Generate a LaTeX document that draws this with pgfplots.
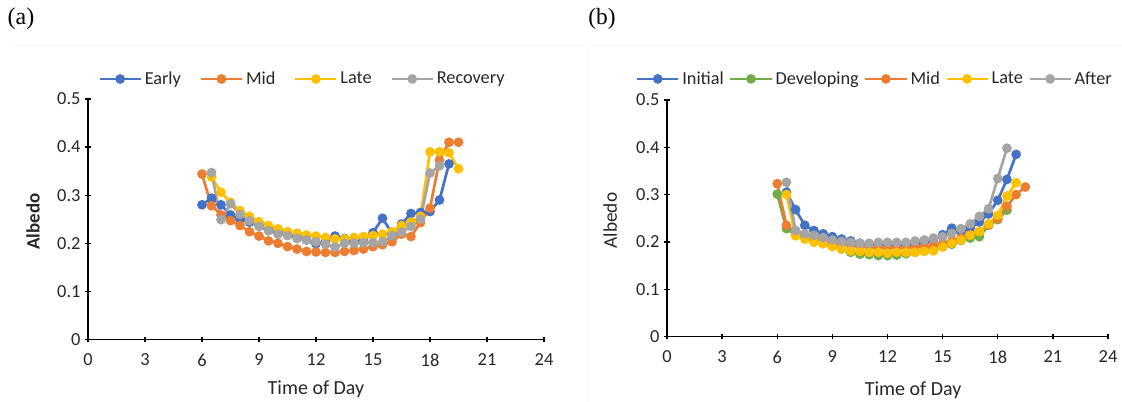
\documentclass[border=0pt]{standalone}
\usepackage{fontspec}
\setmainfont{Carlito}
\newfontfamily\seriffont{Liberation Serif}
\usepackage{pgfplots}
\pgfplotsset{compat=1.18}
\definecolor{eblue}{HTML}{4472C4}
\definecolor{eorange}{HTML}{ED7D31}
\definecolor{egray}{HTML}{A5A5A5}
\definecolor{egold}{HTML}{FFC000}
\definecolor{egreen}{HTML}{70AD47}

\pgfplotstableread{
t a
6.0 0.280
6.5 0.294
7.0 0.280
7.5 0.259
8.0 0.250
8.5 0.244
9.0 0.237
9.5 0.230
10.0 0.224
10.5 0.219
11.0 0.214
11.5 0.207
12.0 0.199
12.5 0.203
13.0 0.215
13.5 0.210
14.0 0.203
14.5 0.207
15.0 0.222
15.5 0.252
16.0 0.221
16.5 0.240
17.0 0.262
17.5 0.264
18.0 0.266
18.5 0.290
19.0 0.365
}\aEarly
\pgfplotstableread{
t a
6.0 0.344
6.5 0.278
7.0 0.259
7.5 0.247
8.0 0.237
8.5 0.224
9.0 0.215
9.5 0.205
10.0 0.200
10.5 0.193
11.0 0.188
11.5 0.183
12.0 0.182
12.5 0.181
13.0 0.181
13.5 0.183
14.0 0.185
14.5 0.188
15.0 0.193
15.5 0.197
16.0 0.203
16.5 0.219
17.0 0.214
17.5 0.243
18.0 0.273
18.5 0.373
19.0 0.410
19.5 0.410
}\aMid
\pgfplotstableread{
t a
6.5 0.338
7.0 0.306
7.5 0.285
8.0 0.268
8.5 0.256
9.0 0.245
9.5 0.237
10.0 0.230
10.5 0.224
11.0 0.221
11.5 0.217
12.0 0.215
12.5 0.212
13.0 0.209
13.5 0.209
14.0 0.212
14.5 0.214
15.0 0.216
15.5 0.219
16.0 0.224
16.5 0.237
17.0 0.244
17.5 0.256
18.0 0.390
18.5 0.390
19.0 0.388
19.5 0.355
}\aLate
\pgfplotstableread{
t a
6.5 0.347
7.0 0.249
7.5 0.282
8.0 0.260
8.5 0.247
9.0 0.235
9.5 0.226
10.0 0.219
10.5 0.216
11.0 0.210
11.5 0.207
12.0 0.203
12.5 0.198
13.0 0.192
13.5 0.200
14.0 0.200
14.5 0.201
15.0 0.201
15.5 0.203
16.0 0.216
16.5 0.223
17.0 0.235
17.5 0.250
18.0 0.346
18.5 0.361
}\aRec

\pgfplotstableread{
t a
6.5 0.305
7.0 0.268
7.5 0.235
8.0 0.224
8.5 0.217
9.0 0.211
9.5 0.206
10.0 0.202
10.5 0.197
11.0 0.195
11.5 0.194
12.0 0.192
12.5 0.192
13.0 0.192
13.5 0.195
14.0 0.199
14.5 0.204
15.0 0.215
15.5 0.229
16.0 0.221
16.5 0.229
17.0 0.242
17.5 0.259
18.0 0.288
18.5 0.332
19.0 0.385
}\bInit
\pgfplotstableread{
t a
6.0 0.301
6.5 0.228
7.0 0.215
7.5 0.209
8.0 0.202
8.5 0.197
9.0 0.191
9.5 0.185
10.0 0.178
10.5 0.174
11.0 0.173
11.5 0.171
12.0 0.171
12.5 0.172
13.0 0.175
13.5 0.178
14.0 0.181
14.5 0.184
15.0 0.190
15.5 0.195
16.0 0.203
16.5 0.208
17.0 0.211
17.5 0.235
18.0 0.247
18.5 0.267
}\bDev
\pgfplotstableread{
t a
6.0 0.323
6.5 0.235
7.0 0.222
7.5 0.213
8.0 0.207
8.5 0.203
9.0 0.199
9.5 0.196
10.0 0.193
10.5 0.190
11.0 0.189
11.5 0.188
12.0 0.188
12.5 0.188
13.0 0.188
13.5 0.189
14.0 0.190
14.5 0.192
15.0 0.196
15.5 0.202
16.0 0.208
16.5 0.215
17.0 0.222
17.5 0.236
18.0 0.249
18.5 0.275
19.0 0.300
19.5 0.316
}\bMid
\pgfplotstableread{
t a
6.5 0.300
7.0 0.213
7.5 0.206
8.0 0.199
8.5 0.196
9.0 0.190
9.5 0.185
10.0 0.181
10.5 0.180
11.0 0.178
11.5 0.178
12.0 0.176
12.5 0.178
13.0 0.178
13.5 0.178
14.0 0.180
14.5 0.181
15.0 0.189
15.5 0.197
16.0 0.204
16.5 0.214
17.0 0.222
17.5 0.238
18.0 0.256
18.5 0.297
19.0 0.325
}\bLate
\pgfplotstableread{
t a
6.5 0.326
7.0 0.224
7.5 0.217
8.0 0.214
8.5 0.209
9.0 0.204
9.5 0.201
10.0 0.199
10.5 0.197
11.0 0.197
11.5 0.199
12.0 0.199
12.5 0.199
13.0 0.199
13.5 0.202
14.0 0.204
14.5 0.208
15.0 0.211
15.5 0.218
16.0 0.228
16.5 0.238
17.0 0.254
17.5 0.270
18.0 0.334
18.5 0.398
}\bAfter

\pgfplotsset{
  albedo/.style={
    scale only axis,
    xmin=0, xmax=24, ymin=0, ymax=0.5,
    xtick={0,3,...,24},
    ytick={0,0.1,0.2,0.3,0.4,0.5},
    axis lines=left,
    axis line style={-, line width=1.1pt, black},
    tick align=center,
    major tick length=4.2pt,
    tick style={black, line width=1.0pt},
    /pgf/number format/assume math mode=true,
    yticklabel style={/pgf/number format/fixed, /pgf/number format/precision=1},
    xticklabel style={yshift=-5pt},
    ticklabel style={font=\fontsize{13.8}{16}\selectfont, text=black!85},
    every axis plot/.append style={line width=2pt, mark=*, mark size=2.6pt},
    legend image code/.code={\draw[mark repeat=2,mark phase=2] plot coordinates {(0pt,0pt) (15.4pt,0pt) (30.8pt,0pt)};},
    legend style={draw=none, fill=none, legend columns=-1,
      font=\fontsize{13.7}{16}\selectfont, text=black!85, anchor=center},
  }
}

\begin{document}
\begin{tikzpicture}
\useasboundingbox (0,0) rectangle (841.5pt,301.5pt);
\draw[gray!7, line width=0.75pt] (6.75pt,267pt) -- (841.5pt,267pt);
\draw[gray!7, line width=0.75pt] (441pt,267pt) -- (441pt,0pt);
\node[font=\seriffont\fontsize{18}{20}\selectfont] at (15.75pt,287.25pt) {(a)};
\node[font=\seriffont\fontsize{17.5}{20}\selectfont] at (451.5pt,287.25pt) {(b)};

\begin{axis}[albedo,
  at={(66pt,46.875pt)}, anchor=south west,
  width=342pt, height=180.4pt,
  xlabel={Time of Day}, ylabel={Albedo},
  xlabel style={font=\fontsize{15}{18}\selectfont, text=black!85, at={(axis description cs:0.5,-0.206)}, anchor=center},
  ylabel style={font=\bfseries\fontsize{14.2}{17}\selectfont, text=black!85, at={(axis description cs:-0.1206,0.49)}, anchor=center, rotate=0},
  legend style={at={(axis description cs:0.471,1.083)},
    /tikz/every even column/.append style={column sep=12pt}},
]
\addplot[color=eblue] table[x=t,y=a] {\aEarly};
\addplot[color=eorange] table[x=t,y=a] {\aMid};
\addplot[color=egold] table[x=t,y=a] {\aLate};
\addplot[color=egray] table[x=t,y=a] {\aRec};
\legend{Early,Mid,Late,Recovery}
\end{axis}

\begin{axis}[albedo,
  at={(500.25pt,49.125pt)}, anchor=south west,
  width=330.75pt, height=177.4pt,
  xlabel={Time of Day}, ylabel={Albedo},
  xlabel style={font=\fontsize{15}{18}\selectfont, text=black!85, at={(axis description cs:0.558,-0.226)}, anchor=center},
  ylabel style={font=\fontsize{14.5}{17}\selectfont, text=black!85, at={(axis description cs:-0.129,0.49)}, anchor=center, rotate=0},
  legend style={at={(axis description cs:0.472,1.089)},
    /tikz/every even column/.append style={column sep=2pt}},
]
\addplot[color=eblue] table[x=t,y=a] {\bInit};
\addplot[color=egreen] table[x=t,y=a] {\bDev};
\addplot[color=eorange] table[x=t,y=a] {\bMid};
\addplot[color=egold] table[x=t,y=a] {\bLate};
\addplot[color=egray] table[x=t,y=a] {\bAfter};
\legend{Initial,Developing,Mid,Late,After}
\end{axis}
\end{tikzpicture}
\end{document}
